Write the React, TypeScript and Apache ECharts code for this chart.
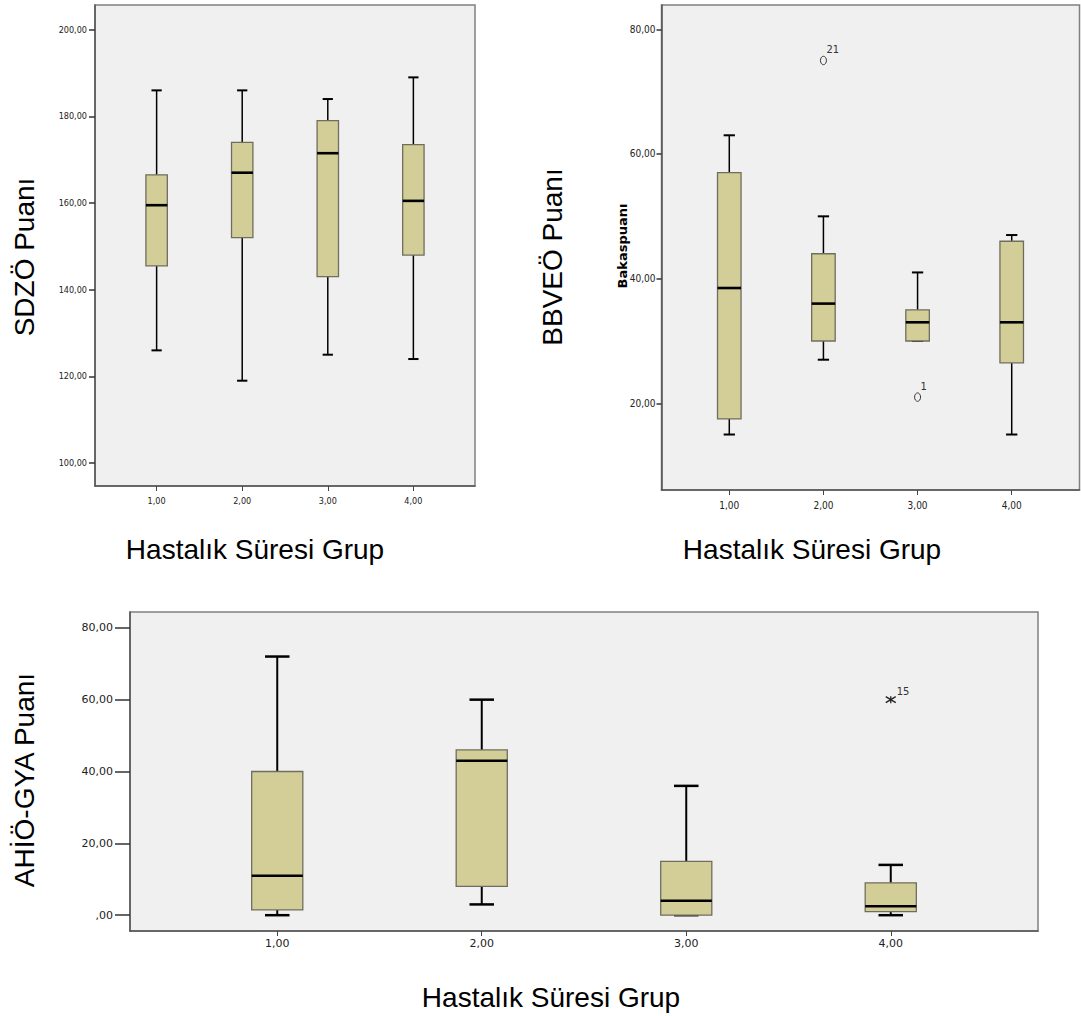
import React, { useEffect, useRef } from "react";
import * as echarts from "echarts";

// ---- data ----
const groups = [1, 2, 3, 4];

// each row: [min, Q1, median, Q3, max]
const sdzoBoxes = [
  [126, 145.5, 159.5, 166.5, 186],
  [119, 152, 167, 174, 186],
  [125, 143, 171.5, 179, 184],
  [124, 148, 160.5, 173.5, 189],
];
const bbveoBoxes = [
  [15, 17.5, 38.5, 57, 63],
  [27, 30, 36, 44, 50],
  [30, 30, 33, 35, 41],
  [15, 26.5, 33, 46, 47],
];
const ahioBoxes = [
  [0, 1.5, 11, 40, 72],
  [3, 8, 43, 46, 60],
  [0, 0, 4, 15, 36],
  [0, 1, 2.5, 9, 14],
];

const bbveoOutlierGroups = [2, 3];
const bbveoOutlierValues = [75, 21];
const bbveoOutlierLabels = ["21", "1"];

const ahioExtremeGroups = [4];
const ahioExtremeValues = [60];
const ahioExtremeLabels = ["15"];

const sdzoTicks = [100, 120, 140, 160, 180, 200];
const bbveoTicks = [20, 40, 60, 80];
const ahioTicks = [0, 20, 40, 60, 80];

const xTitle = "Hastalık Süresi Grup";
const sdzoTitle = "SDZÖ Puanı";
const bbveoTitle = "BBVEÖ Puanı";
const bbveoInner = "Bakaspuanı";
const ahioTitle = "AHİÖ-GYA Puanı";

// ---- styling ----
const NARROW = "'Liberation Sans Narrow', 'Arial Narrow', 'DejaVu Sans Condensed', sans-serif";
const WIDE = "'DejaVu Sans', Verdana, sans-serif";
const ARIAL = "'Liberation Sans', Arial, sans-serif";
const BOX_FILL = "#d3ce98";
const BOX_STROKE = "#6f6e5e";

const fmt = (v: number) => (v === 0 ? ",00" : v.toFixed(2).replace(".", ","));

const boxRender = (whiskerW: number) => (params: any, api: any) => {
  const x = api.value(0);
  const lo = api.coord([x, api.value(1)]);
  const q1 = api.coord([x, api.value(2)]);
  const med = api.coord([x, api.value(3)]);
  const q3 = api.coord([x, api.value(4)]);
  const hi = api.coord([x, api.value(5)]);
  const cx = hi[0];
  const bw = api.size([0.25, 0])[0];
  const cw = api.size([0.12, 0])[0];
  const ws = { stroke: "#000", lineWidth: whiskerW };
  const cs = { stroke: "#000", lineWidth: whiskerW + 0.5 };
  return {
    type: "group",
    children: [
      { type: "line", shape: { x1: cx, y1: hi[1], x2: cx, y2: q3[1] }, style: ws },
      { type: "line", shape: { x1: cx, y1: q1[1], x2: cx, y2: lo[1] }, style: ws },
      { type: "line", shape: { x1: cx - cw / 2, y1: hi[1], x2: cx + cw / 2, y2: hi[1] }, style: cs },
      { type: "line", shape: { x1: cx - cw / 2, y1: lo[1], x2: cx + cw / 2, y2: lo[1] }, style: cs },
      {
        type: "rect",
        shape: { x: cx - bw / 2, y: q3[1], width: bw, height: q1[1] - q3[1] },
        style: { fill: BOX_FILL, stroke: BOX_STROKE, lineWidth: 1.3 },
      },
      {
        type: "line",
        shape: { x1: cx - bw / 2, y1: med[1], x2: cx + bw / 2, y2: med[1] },
        style: { stroke: "#000", lineWidth: 2.6 },
      },
    ],
  };
};

const outlierRender = (labels: string[], font: string, size: number) => (params: any, api: any) => {
  const p = api.coord([api.value(0), api.value(1)]);
  return {
    type: "group",
    children: [
      {
        type: "ellipse",
        shape: { cx: p[0], cy: p[1], rx: 3, ry: 4.2 },
        style: { fill: "none", stroke: "#333", lineWidth: 1 },
      },
      {
        type: "text",
        x: p[0] + 3,
        y: p[1] - 5,
        style: {
          text: labels[params.dataIndex],
          fontSize: size,
          fontFamily: font,
          fill: "#333",
          align: "left",
          textAlign: "left",
          verticalAlign: "bottom",
          textVerticalAlign: "bottom",
        },
      },
    ],
  };
};

const extremeRender = (labels: string[]) => (params: any, api: any) => {
  const p = api.coord([api.value(0), api.value(1)]);
  const s = { stroke: "#222", lineWidth: 1.3 };
  return {
    type: "group",
    children: [
      { type: "line", shape: { x1: p[0] - 5, y1: p[1] - 3, x2: p[0] + 5, y2: p[1] + 3 }, style: s },
      { type: "line", shape: { x1: p[0] - 5, y1: p[1] + 3, x2: p[0] + 5, y2: p[1] - 3 }, style: s },
      { type: "line", shape: { x1: p[0], y1: p[1] - 3.5, x2: p[0], y2: p[1] + 3.5 }, style: s },
      {
        type: "text",
        x: p[0] + 6,
        y: p[1] - 3,
        style: {
          text: labels[params.dataIndex],
          fontSize: 10,
          fontFamily: WIDE,
          fill: "#333",
          align: "left",
          textAlign: "left",
          verticalAlign: "bottom",
          textVerticalAlign: "bottom",
        },
      },
    ],
  };
};

const gridBase = {
  show: true,
  backgroundColor: "#f0f0f0",
  borderColor: "#808080",
  borderWidth: 1.5,
  containLabel: false,
};

const xAxisFor = (gridIndex: number, font: string, size: number, margin: number) => ({
  type: "value",
  gridIndex,
  min: 0.28,
  max: 4.72,
  splitLine: { show: false },
  axisLine: { show: true, onZero: false, lineStyle: { color: "#555", width: 1.5 } },
  axisTick: { show: true, customValues: groups, length: 5, lineStyle: { color: "#444", width: 1 } },
  axisLabel: { show: true, customValues: groups, formatter: fmt, margin, fontFamily: font, fontSize: size, color: "#222" },
});

const yAxisFor = (
  gridIndex: number,
  min: number,
  max: number,
  ticks: number[],
  font: string,
  size: number,
  tickLen: number,
  margin: number
) => ({
  type: "value",
  gridIndex,
  min,
  max,
  splitLine: { show: false },
  axisLine: { show: true, onZero: false, lineStyle: { color: "#555", width: 1.5 } },
  axisTick: { show: true, customValues: ticks, length: tickLen, lineStyle: { color: "#333", width: 1.5 } },
  axisLabel: { show: true, customValues: ticks, formatter: fmt, margin, fontFamily: font, fontSize: size, color: "#222" },
});

const toBoxData = (boxes: number[][]) => boxes.map((b, i) => [groups[i], ...b]);

const title = (text: string, x: number, y: number, rotate: boolean, size = 28, family = ARIAL, weight = "normal") => ({
  type: "text",
  x,
  y,
  rotation: rotate ? Math.PI / 2 : 0,
  silent: true,
  style: {
    text,
    fontSize: size,
    fontFamily: family,
    fontWeight: weight,
    fill: "#000",
    align: "center",
    textAlign: "center",
    verticalAlign: "middle",
    textVerticalAlign: "middle",
  },
});

export default function App() {
  const ref = useRef<HTMLDivElement>(null);

  useEffect(() => {
    document.body.style.margin = "0";
    if (!ref.current) return;
    const chart = echarts.init(ref.current, null, { renderer: "svg" });
    chart.setOption({
      animation: false,
      backgroundColor: "#ffffff",
      grid: [
        { ...gridBase, left: 95, top: 5, width: 380, height: 481 },
        { ...gridBase, left: 661.5, top: 5, width: 418, height: 485 },
        { ...gridBase, left: 130, top: 612, width: 908, height: 319 },
      ],
      xAxis: [
        xAxisFor(0, NARROW, 9, 10),
        xAxisFor(1, NARROW, 10, 10),
        xAxisFor(2, WIDE, 11, 7),
      ],
      yAxis: [
        yAxisFor(0, 94.7, 205.7, sdzoTicks, NARROW, 9, 6, 8),
        yAxisFor(1, 6.1, 83.9, bbveoTicks, NARROW, 10, 5, 6),
        yAxisFor(2, -4.4, 84.4, ahioTicks, WIDE, 11, 15, 17),
      ],
      series: [
        {
          type: "custom",
          xAxisIndex: 0,
          yAxisIndex: 0,
          renderItem: boxRender(1.5),
          data: toBoxData(sdzoBoxes),
          encode: { x: 0, y: [1, 2, 3, 4, 5] },
        },
        {
          type: "custom",
          xAxisIndex: 1,
          yAxisIndex: 1,
          renderItem: boxRender(1.5),
          data: toBoxData(bbveoBoxes),
          encode: { x: 0, y: [1, 2, 3, 4, 5] },
        },
        {
          type: "custom",
          xAxisIndex: 1,
          yAxisIndex: 1,
          renderItem: outlierRender(bbveoOutlierLabels, NARROW, 11),
          data: bbveoOutlierGroups.map((g, i) => [g, bbveoOutlierValues[i]]),
          encode: { x: 0, y: 1 },
        },
        {
          type: "custom",
          xAxisIndex: 2,
          yAxisIndex: 2,
          renderItem: boxRender(2),
          data: toBoxData(ahioBoxes),
          encode: { x: 0, y: [1, 2, 3, 4, 5] },
        },
        {
          type: "custom",
          xAxisIndex: 2,
          yAxisIndex: 2,
          renderItem: extremeRender(ahioExtremeLabels),
          data: ahioExtremeGroups.map((g, i) => [g, ahioExtremeValues[i]]),
          encode: { x: 0, y: 1 },
        },
      ],
      graphic: [
        title(sdzoTitle, 24, 257, true),
        title(bbveoTitle, 552, 257, true),
        title(bbveoInner, 622, 246, true, 13, WIDE, "bold"),
        title(ahioTitle, 24, 780, true),
        title(xTitle, 255, 549, false),
        title(xTitle, 812, 549, false),
        title(xTitle, 551, 997, false),
      ],
    });
    return () => chart.dispose();
  }, []);

  return <div ref={ref} style={{ width: 1081, height: 1016 }} />;
}
